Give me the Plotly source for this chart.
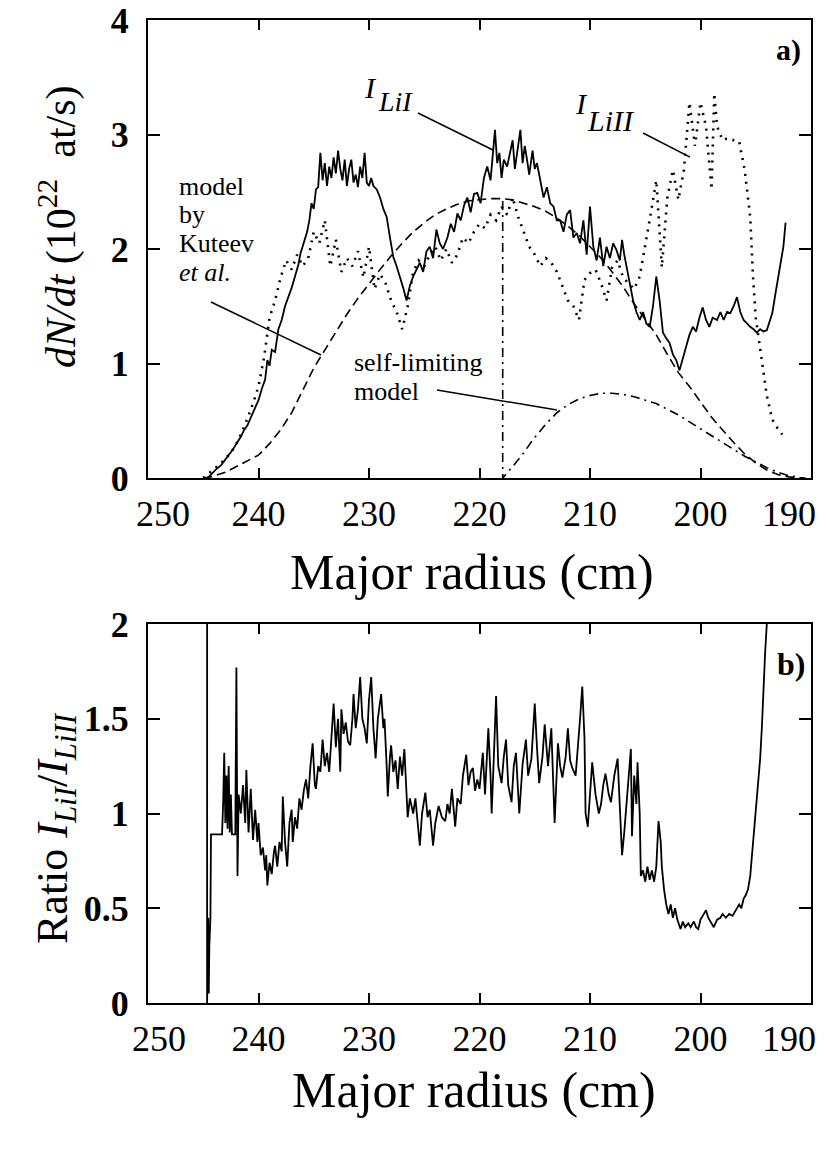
import plotly.graph_objects as go

# ---------------- data ----------------
# Panel a) I_LiI (solid)
r_li1 = [244.6,244.2,243.8,243.4,243.0,242.6,242.3,242.0,241.6,241.3,241.0,240.6,240.3,240.0,239.7,239.4,239.2,239.0,238.8,238.5,
         238.2,237.9,237.6,237.3,237.0,236.7,236.4,236.2,235.9,235.6,235.4,235.2,235.0,234.8,234.6,234.4,234.2,234.0,233.8,233.6,
         233.4,233.2,233.0,232.8,232.6,232.4,232.2,232.0,231.8,231.6,231.4,231.2,231.0,230.8,230.6,230.4,230.2,230.0,229.8,229.6,
         229.3,229.0,228.7,228.4,228.1,227.8,227.5,227.2,226.9,226.6,226.3,226.0,225.7,225.4,225.1,224.8,224.5,224.2,223.9,223.6,
         223.3,222.9,222.6,222.3,222.0,221.7,221.4,221.1,220.8,220.5,220.2,219.9,219.6,219.3,219.0,218.8,218.6,218.4,218.2,218.0,
         217.8,217.5,217.2,217.0,216.8,216.6,216.3,216.1,215.9,215.7,215.5,215.2,215.0,214.8,214.5,214.2,213.9,213.6,213.3,213.0,
         212.7,212.4,212.1,211.8,211.5,211.2,210.9,210.6,210.3,210.0,209.7,209.4,209.1,208.8,208.5,208.2,207.9,207.6,207.3,207.1,
         206.9,206.7,206.4,206.1,205.8,205.5,205.2,204.9,204.6,204.3,204.0,203.7,203.4,203.1,202.8,202.5,202.2,201.9,201.6,201.3,
         201.0,200.7,200.4,200.1,199.8,199.5,199.2,198.9,198.5,198.2,197.9,197.6,197.3,197.0,196.7,196.4,196.1,195.8,195.5,195.2,
         194.9,194.6,194.3,194.0,193.7,193.5,193.2,192.9,192.7,192.5,192.3]
v_li1 = [0.00,0.04,0.08,0.11,0.16,0.22,0.25,0.30,0.36,0.42,0.46,0.55,0.62,0.68,0.78,0.86,1.03,0.98,1.12,1.10,
         1.30,1.38,1.50,1.58,1.66,1.76,1.86,1.96,2.05,2.15,2.25,2.40,2.35,2.52,2.54,2.84,2.60,2.75,2.55,2.72,
         2.62,2.80,2.66,2.86,2.70,2.60,2.78,2.55,2.70,2.78,2.58,2.65,2.54,2.72,2.62,2.84,2.58,2.55,2.62,2.55,
         2.52,2.45,2.35,2.28,2.10,1.93,1.85,1.76,1.66,1.55,1.68,1.76,1.82,1.88,1.80,1.98,2.02,1.92,2.17,2.05,
         2.00,2.10,2.22,2.15,2.31,2.25,2.38,2.45,2.32,2.48,2.49,2.40,2.62,2.72,2.60,2.80,3.04,2.75,2.84,2.62,
         2.78,2.72,2.86,2.95,2.70,2.82,3.04,2.75,2.90,2.78,2.65,2.86,2.70,2.75,2.60,2.45,2.54,2.40,2.37,2.25,
         2.25,2.15,2.30,2.34,2.10,2.14,2.05,2.25,1.95,2.37,2.02,1.90,2.10,1.85,2.02,1.92,2.05,1.99,1.90,2.08,
         1.95,1.84,1.70,1.55,1.45,1.38,1.45,1.35,1.32,1.50,1.76,1.55,1.27,1.22,1.18,1.08,1.03,0.94,1.05,1.15,
         1.25,1.32,1.28,1.40,1.49,1.38,1.32,1.40,1.38,1.45,1.38,1.45,1.44,1.50,1.58,1.45,1.38,1.35,1.32,1.30,
         1.27,1.30,1.28,1.29,1.38,1.44,1.62,1.79,1.92,2.02,2.23]

# Panel a) I_LiII (dotted)
r_li2 = [245.0,244.5,244.0,243.5,243.0,242.5,242.0,241.5,241.0,240.5,240.0,239.5,239.0,238.5,238.0,237.5,237.0,236.5,236.0,235.5,
         235.0,234.5,234.0,233.5,233.0,232.5,232.0,231.5,231.0,230.5,230.0,229.5,229.0,228.5,228.0,227.5,227.0,226.5,226.0,225.5,
         225.0,224.5,224.0,223.5,223.0,222.5,222.0,221.5,221.0,220.5,220.0,219.5,219.0,218.5,218.0,217.5,217.0,216.5,216.0,215.5,
         215.0,214.5,214.0,213.5,213.0,212.5,212.0,211.5,211.0,210.5,210.0,209.5,209.0,208.5,208.0,207.5,207.0,206.5,206.0,205.5,
         205.0,204.5,204.0,203.5,203.0,202.5,202.0,201.5,201.0,200.5,200.0,199.5,199.0,198.75,198.5,198.0,197.5,197.0,196.5,196.0,
         195.5,195.25,195.0,194.5,194.0,193.5,193.0,192.6]
v_li2 = [0.00,0.04,0.08,0.12,0.17,0.22,0.30,0.40,0.52,0.65,0.80,1.05,1.40,1.55,1.75,1.90,1.82,1.95,1.85,1.92,
         2.15,2.05,2.25,1.85,2.08,1.80,1.92,1.85,1.98,1.75,2.02,1.65,1.78,1.70,1.55,1.45,1.30,1.50,1.80,1.90,
         1.85,1.95,2.02,1.90,2.00,1.88,1.95,2.10,2.05,2.15,2.22,2.18,2.30,2.25,2.37,2.30,2.45,2.28,2.15,2.02,
         1.95,1.85,1.92,1.88,1.80,1.67,1.55,1.50,1.38,1.73,1.79,1.82,1.70,1.55,1.84,1.90,1.75,1.70,1.65,1.76,
         2.02,2.31,2.60,1.84,2.45,2.69,2.43,2.69,3.28,2.90,3.28,3.07,2.52,3.36,3.07,2.95,2.97,2.95,2.94,2.69,
         2.28,1.76,1.40,1.05,0.72,0.51,0.43,0.38]

# Panel a) model by Kuteev et al. (dashed)
r_kut = [245.0,244.3,243.0,242.0,241.0,240.0,239.0,238.0,237.0,236.0,235.0,234.3,233.0,232.0,231.0,230.0,229.0,228.0,227.0,226.0,
         225.0,224.0,223.0,222.0,221.0,220.0,219.0,218.0,217.0,216.0,215.0,214.0,213.0,212.0,211.0,210.0,209.0,208.0,207.0,206.0,
         205.0,204.0,203.0,202.0,201.0,200.0,199.0,198.0,197.0,196.0,195.0,194.0,193.0,192.0,191.0]
v_kut = [0.00,0.01,0.05,0.10,0.15,0.20,0.30,0.42,0.57,0.76,0.96,1.07,1.27,1.43,1.57,1.70,1.82,1.94,2.05,2.15,
         2.23,2.30,2.35,2.39,2.42,2.43,2.44,2.44,2.43,2.40,2.37,2.33,2.27,2.20,2.12,2.02,1.92,1.80,1.67,1.52,
         1.38,1.25,1.08,0.92,0.80,0.66,0.53,0.42,0.31,0.21,0.13,0.07,0.03,0.01,0.00]

# Panel a) self-limiting model (dash-dot)
r_self = [217.9,217.9,217.0,216.0,215.2,214.0,213.0,212.0,211.0,210.0,209.0,208.0,207.0,206.0,205.0,204.0,203.0,202.0,201.0,200.0,
          199.0,198.0,197.0,196.0,195.0,194.0,193.0,192.0,191.0,190.5]
v_self = [2.42,0.00,0.10,0.22,0.33,0.47,0.57,0.64,0.69,0.72,0.74,0.74,0.73,0.71,0.68,0.65,0.60,0.55,0.49,0.43,
          0.37,0.31,0.25,0.19,0.14,0.09,0.05,0.02,0.005,0.00]

# Panel b) ratio I_LiI / I_LiII
r_ratio = [244.65,244.65,244.55,244.5,244.45,244.35,244.3,243.3,243.2,243.1,243.0,242.9,242.8,242.7,242.6,242.5,242.4,242.1,242.0,241.9,
           241.8,241.6,241.4,241.2,241.1,240.9,240.7,240.5,240.3,240.1,240.0,239.8,239.6,239.4,239.3,239.2,239.0,238.8,238.6,238.5,
           238.3,238.1,237.9,237.8,237.6,237.4,237.2,237.0,236.9,236.7,236.5,236.3,236.1,235.9,235.7,235.5,235.3,235.1,234.9,234.8,
           234.6,234.4,234.2,234.0,233.8,233.6,233.4,233.2,233.0,232.8,232.6,232.5,232.3,232.1,231.9,231.7,231.5,231.4,231.2,231.0,
           230.8,230.6,230.4,230.2,230.0,229.8,229.6,229.4,229.2,228.9,228.7,228.6,228.4,228.3,228.1,228.0,227.8,227.6,227.4,227.2,
           227.0,226.8,226.6,226.5,226.3,226.0,225.8,225.6,225.4,225.2,224.9,224.7,224.5,224.2,224.0,223.7,223.4,223.1,222.9,222.7,
           222.5,222.2,222.0,221.7,221.5,221.2,221.0,220.8,220.6,220.4,220.2,220.0,219.7,219.5,219.2,219.0,218.9,218.7,218.5,218.3,
           218.0,217.8,217.6,217.4,217.1,216.9,216.7,216.4,216.2,216.1,215.8,215.6,215.3,215.0,214.8,214.6,214.3,214.1,213.8,213.5,
           213.2,212.9,212.7,212.5,212.2,212.0,211.8,211.6,211.3,211.1,210.9,210.7,210.5,210.4,210.2,210.0,209.8,209.5,209.2,209.0,
           208.8,208.6,208.3,208.1,207.8,207.5,207.3,207.1,206.9,206.6,206.3,206.2,206.0,205.8,205.7,205.5,205.4,205.2,205.0,204.8,
           204.6,204.4,204.2,204.0,203.8,203.6,203.5,203.3,203.1,202.9,202.7,202.5,202.3,202.1,201.9,201.8,201.6,201.4,201.1,200.9,
           200.6,200.4,200.2,200.0,199.8,199.5,199.3,199.0,198.8,198.5,198.2,198.0,197.7,197.4,197.1,196.8,196.5,196.3,196.1,195.9,
           195.7,195.5,195.3,195.1,195.0,194.8,194.6,194.45,194.3,194.15,194.0,193.9]
v_ratio = [2.05,0.00,0.45,0.05,0.30,0.45,0.89,0.89,1.05,1.32,0.95,1.20,0.92,1.25,0.90,1.10,0.89,0.89,1.77,0.67,
           1.10,1.00,1.15,0.95,1.23,0.90,1.13,0.86,1.02,0.85,0.95,0.78,0.82,0.70,0.78,0.62,0.74,0.68,0.80,0.83,
           0.72,0.85,0.80,1.09,0.85,0.72,0.95,1.02,0.85,0.98,0.92,1.08,1.02,1.12,1.18,1.08,1.25,1.37,1.15,1.13,
           1.25,1.22,1.39,1.25,1.32,1.22,1.40,1.58,1.35,1.50,1.22,1.55,1.42,1.48,1.38,1.36,1.50,1.63,1.45,1.55,
           1.72,1.50,1.45,1.37,1.60,1.72,1.45,1.29,1.50,1.63,1.45,1.50,1.25,1.09,1.30,1.36,1.22,1.28,1.13,1.30,
           1.20,1.34,1.10,0.98,1.08,1.00,1.08,0.95,0.83,1.00,1.11,0.98,1.02,0.83,0.95,1.04,0.98,0.96,1.05,1.00,
           1.13,0.93,1.08,1.05,1.20,1.31,1.15,1.22,1.24,1.12,1.18,1.13,1.32,1.10,1.45,1.20,1.00,1.30,1.62,1.25,
           1.16,1.30,1.39,1.15,1.06,1.25,1.32,1.00,1.20,1.26,1.39,1.20,1.29,1.58,1.35,1.16,1.30,1.47,1.25,1.45,
           0.95,1.37,1.25,1.19,1.30,1.45,1.28,1.24,1.20,1.34,1.50,1.67,1.40,1.00,0.93,1.10,1.27,1.10,1.00,1.05,
           1.15,1.21,1.10,1.06,1.20,1.29,1.00,0.78,0.90,1.10,1.34,0.88,1.20,1.05,1.27,1.00,0.67,0.70,0.64,0.72,
           0.65,0.70,0.64,0.72,0.96,0.85,0.72,0.60,0.52,0.47,0.52,0.45,0.50,0.44,0.41,0.39,0.43,0.40,0.42,0.40,
           0.43,0.40,0.39,0.44,0.46,0.49,0.45,0.42,0.40,0.44,0.45,0.47,0.45,0.47,0.46,0.49,0.52,0.50,0.55,0.57,
           0.60,0.67,0.80,0.95,1.03,1.15,1.29,1.45,1.68,1.85,2.00,2.10]

x_tickvals = [250, 240, 230, 220, 210, 200, 190]
x_ticktext = ["", "240", "230", "220", "210", "200", ""]   # end labels drawn by overlay axes
x_first, x_last = 250, 190
ya_tickvals = [0, 1, 2, 3, 4]
yb_tickvals = [0, 0.5, 1, 1.5, 2]
yb_ticktext = ["0", "0.5", "1", "1.5", "2"]

# ---------------- figure ----------------
W, H = 827, 1163
SERIF = "Liberation Serif"

def px_x(p):
    return p / W

def px_y(p):
    return 1 - p / H

fig = go.Figure()
fig.add_trace(go.Scatter(x=r_kut, y=v_kut, mode="lines", xaxis="x", yaxis="y",
                         line=dict(color="black", width=1.6, dash="9px,5px")))
fig.add_trace(go.Scatter(x=r_self, y=v_self, mode="lines", xaxis="x", yaxis="y",
                         line=dict(color="black", width=1.6, dash="9px,5px,2px,5px")))
fig.add_trace(go.Scatter(x=r_li2, y=v_li2, mode="lines", xaxis="x", yaxis="y",
                         line=dict(color="black", width=2.6, dash="2px,6px")))
fig.add_trace(go.Scatter(x=r_li1, y=v_li1, mode="lines", xaxis="x", yaxis="y",
                         line=dict(color="black", width=1.8)))
fig.add_trace(go.Scatter(x=r_ratio, y=v_ratio, mode="lines", xaxis="x2", yaxis="y2",
                         line=dict(color="black", width=1.8)))
# empty traces so that the overlay axes carrying the end tick labels are drawn
for xa, ya in (("x3", "y"), ("x4", "y"), ("x5", "y2"), ("x6", "y2")):
    fig.add_trace(go.Scatter(x=[], y=[], mode="lines", xaxis=xa, yaxis=ya,
                             hoverinfo="skip", showlegend=False))

xdom = [px_x(148), px_x(811)]
xfont = dict(family=SERIF, size=36, color="black")
common_x = dict(range=[250, 190], tickmode="array", tickvals=x_tickvals, ticktext=x_ticktext,
                ticks="inside", ticklen=10, tickwidth=1.5, tickcolor="black",
                showline=True, linewidth=2, linecolor="black", mirror="ticks",
                showgrid=False, zeroline=False, domain=xdom, automargin=False,
                ticklabeloverflow="allow", ticklabelstandoff=3, tickfont=xfont)
common_y = dict(ticks="inside", ticklen=12, tickwidth=1.5, tickcolor="black",
                showline=True, linewidth=2, linecolor="black", mirror="ticks",
                showgrid=False, zeroline=False, automargin=False,
                ticklabeloverflow="allow", ticklabelstandoff=10,
                tickfont=dict(family=SERIF, size=36, color="black", weight="bold"))

def end_label_axis(base, anchor, val, shift):
    # ticklabelshift follows the (reversed) axis direction: positive moves left here
    return dict(overlaying=base, anchor=anchor, side="bottom", range=[250, 190], domain=xdom,
                tickmode="array", tickvals=[val], ticktext=[str(val)],
                ticks="", showline=False, showgrid=False, zeroline=False,
                automargin=False, ticklabeloverflow="allow", ticklabelstandoff=11,
                ticklabelshift=shift, tickfont=xfont)

fig.update_layout(
    template="none",
    width=W, height=H, margin=dict(l=0, r=0, t=0, b=0, pad=0), autosize=False,
    paper_bgcolor="white", plot_bgcolor="white", showlegend=False,
    xaxis=dict(anchor="y", **common_x),
    yaxis=dict(anchor="x", range=[0, 4], tickmode="array", tickvals=ya_tickvals,
               domain=[px_y(478), px_y(20)], **common_y),
    xaxis2=dict(anchor="y2", **common_x),
    yaxis2=dict(anchor="x2", range=[0, 2], tickmode="array", tickvals=yb_tickvals, ticktext=yb_ticktext,
                domain=[px_y(1003), px_y(624)], **common_y),
    xaxis3=end_label_axis("x", "y", x_first, -15),
    xaxis4=end_label_axis("x", "y", x_last, 22),
    xaxis5=end_label_axis("x2", "y2", x_first, -11),
    xaxis6=end_label_axis("x2", "y2", x_last, 22),
)

# leader lines (data coordinates of panel a)
leaders = [
    ((244.3, 1.537), (234.34, 1.074)),
    ((225.57, 3.188), (218.78, 2.865)),
    ((205.2, 3.013), (200.95, 2.803)),
    ((223.85, 0.769), (212.99, 0.594)),
]
for (x0, y0), (x1, y1) in leaders:
    fig.add_shape(type="line", xref="x", yref="y", x0=x0, y0=y0, x1=x1, y1=y1,
                  line=dict(color="black", width=1.5))

def ann(text, x, y, size, xanchor="center", yanchor="middle", angle=0, weight="normal"):
    fig.add_annotation(text=text, x=px_x(x), y=px_y(y), xref="paper", yref="paper",
                       showarrow=False, xanchor=xanchor, yanchor=yanchor, textangle=angle,
                       font=dict(family=SERIF, size=size, color="black", weight=weight))

# axis titles
ann("<i>dN/dt</i> (10<sup>22</sup>  at/s)", 58, 227, 42, angle=-90)
ann("Major radius (cm)", 472, 572, 50)
ann("Ratio <i>I</i><sub><i>LiI</i></sub>/<i>I</i><sub><i>LiII</i></sub>", 55, 828, 44, angle=-90)
ann("Major radius (cm)", 474, 1090, 50)

# panel labels
ann("a)", 788, 50, 30, weight="bold")
ann("b)", 791, 664, 32, weight="bold")

# curve labels
ann("<i>I</i>", 370, 88, 30)
ann("<i>LiI</i>", 376, 102, 28, xanchor="left")
ann("<i>I</i>", 581, 104, 30)
ann("<i>LiII</i>", 585, 121, 30, xanchor="left")
ann("model", 177, 186, 26, xanchor="left")
ann("by", 177, 214.7, 26, xanchor="left")
ann("Kuteev", 177, 243.4, 26, xanchor="left")
ann("<i>et al.</i>", 177, 272, 26, xanchor="left")
ann("self-limiting", 352, 363, 26, xanchor="left")
ann("model", 352, 391, 26, xanchor="left")

fig.write_html("out.html")
